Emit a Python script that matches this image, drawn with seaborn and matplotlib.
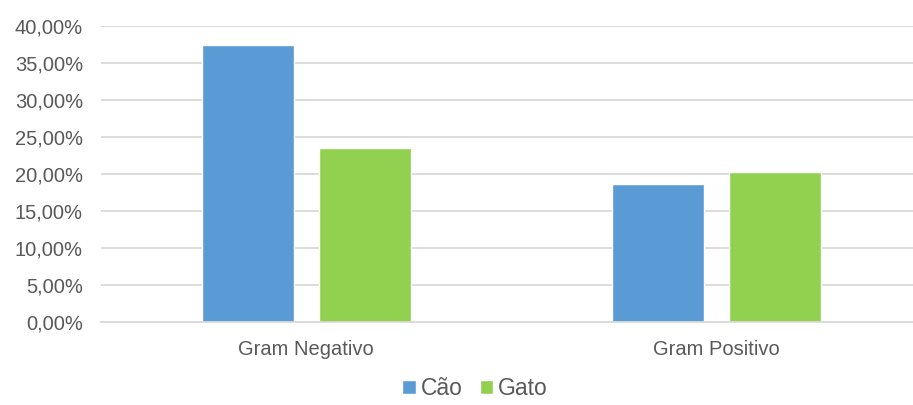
import numpy as np
import pandas as pd
import matplotlib
matplotlib.use('Agg')
import matplotlib.pyplot as plt
import seaborn as sns
from matplotlib.ticker import FuncFormatter, FixedLocator

# dados (%)
categorias = ['Gram Negativo', 'Gram Positivo']
animais = ['Cão', 'Gato']
cao = [37.35, 18.6]
gato = [23.5, 20.2]
cores = ['#5B9BD5', '#92D050']

df = pd.DataFrame({
    'categoria': categorias * 2,
    'animal': [animais[0]] * 2 + [animais[1]] * 2,
    'valor': cao + gato,
})

sns.set_style('white')
plt.rcParams['font.family'] = ['Liberation Sans', 'DejaVu Sans']
cinza = '#595959'

fig = plt.figure(figsize=(9.13, 4.05), dpi=100)
ax = fig.add_axes([101 / 913, 83.3 / 405, 821 / 913, 296 / 405])

sns.barplot(data=df, x='categoria', y='valor', hue='animal', order=categorias,
            hue_order=animais, palette=cores, width=0.57, gap=0.214,
            saturation=1, ax=ax, legend=True)

ax.set_ylim(0, 40)
ax.set_xlim(-0.5, 1.5)
ax.set_yticks(np.arange(0, 41, 5))
ax.yaxis.set_major_formatter(FuncFormatter(lambda v, p: f'{v:.2f}%'.replace('.', ',')))
ax.grid(axis='y', color='#D9D9D9', linewidth=1.3)
ax.set_axisbelow(True)
ax.set_xlabel('')
ax.set_ylabel('')

for s in ['top', 'right', 'left']:
    ax.spines[s].set_visible(False)
ax.spines['bottom'].set_color('#D9D9D9')
ax.spines['bottom'].set_linewidth(1.3)

ax.tick_params(axis='y', length=0, pad=13, labelsize=14.5, labelcolor=cinza)
ax.tick_params(axis='x', which='major', length=0, pad=13, labelsize=14.5, labelcolor=cinza)
ax.xaxis.set_minor_locator(FixedLocator([-0.5, 0.5, 1.5]))
ax.tick_params(axis='x', which='minor', length=4.5, width=1.3, color='#D9D9D9')

ax.get_legend().remove()
h, l = ax.get_legend_handles_labels()
fig.legend(h, l, loc='center', bbox_to_anchor=(475 / 913, 0.04), ncol=2,
           frameon=False, fontsize=16.5, labelcolor=cinza, handlelength=0.6,
           handleheight=0.6, handletextpad=0.2, columnspacing=0.75, borderpad=0.05)

fig.savefig('out.png', dpi=100)
